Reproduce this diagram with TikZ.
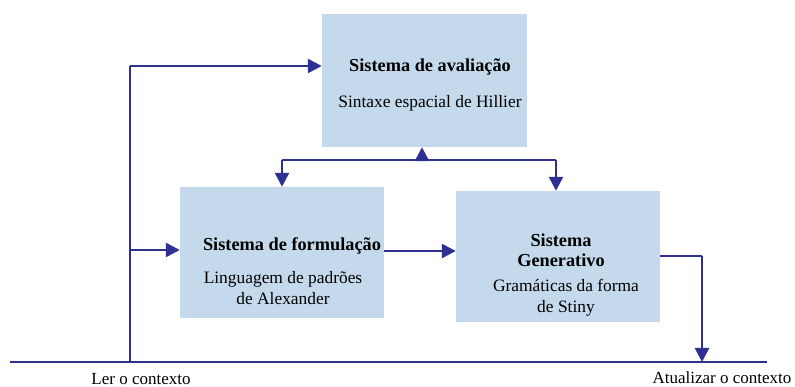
\documentclass[tikz,border=0pt]{standalone}
\usepackage{fontspec}
\setmainfont{Liberation Serif}
\usetikzlibrary{arrows.meta}
\definecolor{boxfill}{RGB}{197,217,236}
\definecolor{arrowblue}{RGB}{46,49,146}
\tikzset{
  sysbox/.style={fill=boxfill, draw=none, inner sep=0pt},
  conn/.style={draw=arrowblue, line width=2.5pt},
  arr/.style={conn, -{Triangle[length=14pt,width=14pt]}},
  ttl/.style={font=\fontsize{18.3}{20}\selectfont\bfseries, inner sep=0pt, align=center},
  sub/.style={font=\fontsize{17.4}{21.5}\selectfont, inner sep=0pt, align=center},
  lbl/.style={font=\fontsize{17}{20}\selectfont, inner sep=0pt}
}
\begin{document}
\begin{tikzpicture}[x=1pt,y=1pt]
\useasboundingbox (0,0) rectangle (795,387);
% boxes
\node[sysbox, minimum width=205pt, minimum height=133pt] (aval) at (424.5,306.5) {};
\node[sysbox, minimum width=204pt, minimum height=131pt] (form) at (282,134.5) {};
\node[sysbox, minimum width=204pt, minimum height=131pt] (gen) at (558,130.5) {};
% texts
\node[ttl] (avalT) at (430,320) {Sistema de avaliação};
\node[sub] (avalS) at (430,284) {Sintaxe espacial de Hillier};
\node[ttl] (formT) at (292,141) {Sistema de formulação};
\node[sub] (formS) at (283,99) {Linguagem de padrões\\de Alexander};
\node[ttl] (genT) at (561,137) {Sistema\\Generativo};
\node[sub] (genS) at (566,89) {Gramáticas da forma\\de Stiny};
% baseline
\coordinate (b0) at (10,25);
\coordinate (b1) at (767,25);
\draw[conn] (b0) -- (b1);
% left feed
\coordinate (lfoot) at (130,25);
\coordinate (ltop) at (130,321);
\draw[conn] (lfoot) -- (ltop);
\draw[arr] (ltop) -- (ltop -| aval.west);
\coordinate (lmid) at (130,137);
\draw[arr] (lmid) -- (lmid -| form.west);
% formulation -> generative
\draw[arr] (form.east |- 0,136) -- (gen.west |- 0,136);
% evaluation distribution
\coordinate (hub) at (422,227);
\coordinate (hl) at (282,227);
\coordinate (hr) at (556,227);
\draw[arr] (hub) -- (hub |- aval.south);
\draw[conn] (hl) -- (hr);
\draw[arr] (hl) -- (hl |- form.north);
\draw[arr] (hr) -- (hr |- gen.north);
% generative -> update
\coordinate (gout) at (702,131);
\draw[conn] (gen.east |- gout) -- (gout);
\draw[arr] (gout) -- (gout |- b0);
% labels
\node[lbl] (ler) at (141,8) {Ler o contexto};
\node[lbl] (atu) at (722,9) {Atualizar o contexto};
\end{tikzpicture}
\end{document}
